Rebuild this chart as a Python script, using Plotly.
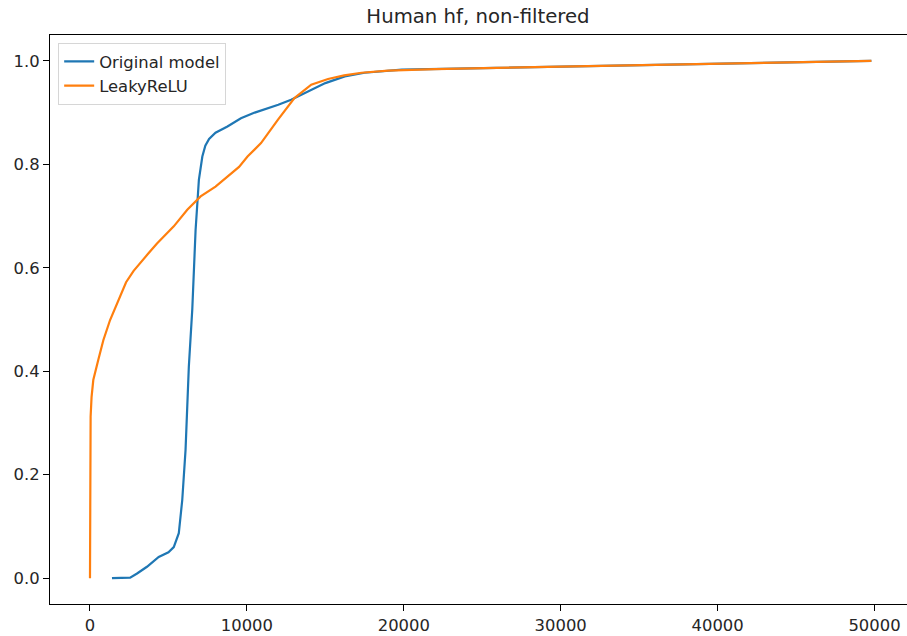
import plotly.graph_objects as go

title_text = "Human hf, non-filtered"

orig_x = [1400, 2000, 2560, 3000, 3630, 4380, 5000, 5340, 5660, 5880, 6090, 6300, 6520, 6730,
          6940, 7160, 7350, 7590, 7800, 8000, 8760, 9620, 10500, 11320, 12000, 12820, 13500, 14310,
          15000, 16240, 17500, 19870, 25000, 30000, 35000, 40000, 45000, 49800]
orig_y = [0.0, 0.0, 0.001, 0.009, 0.022, 0.041, 0.05, 0.06, 0.087, 0.151, 0.248, 0.409, 0.52, 0.673,
          0.770, 0.815, 0.836, 0.849, 0.856, 0.861, 0.873, 0.889, 0.900, 0.908, 0.915, 0.925, 0.935,
          0.947, 0.957, 0.970, 0.977, 0.983, 0.986, 0.989, 0.991, 0.994, 0.997, 1.0]

leaky_x = [0, 0, 20, 40, 100, 210, 530, 850, 1280, 1920, 2300, 2780, 3200, 3700, 4270, 5340, 6200,
           7050, 8000, 8760, 9500, 10040, 10900, 11970, 13030, 14100, 15170, 16200, 17310, 19000,
           22000, 30000, 40000, 49800]
leaky_y = [0.0, 0.15, 0.25, 0.312, 0.35, 0.383, 0.422, 0.46, 0.499, 0.544, 0.572, 0.594, 0.610, 0.627,
           0.647, 0.68, 0.712, 0.738, 0.757, 0.776, 0.795, 0.815, 0.841, 0.886, 0.928, 0.954, 0.965,
           0.972, 0.977, 0.981, 0.984, 0.989, 0.995, 1.0]

x_ticks = [0, 10000, 20000, 30000, 40000, 50000]
y_ticks = [0.0, 0.2, 0.4, 0.6, 0.8, 1.0]

fig = go.Figure()
fig.add_trace(go.Scatter(x=orig_x, y=orig_y, mode="lines", name="Original model",
                         line=dict(color="#1f77b4", width=2.2)))
fig.add_trace(go.Scatter(x=leaky_x, y=leaky_y, mode="lines", name="LeakyReLU",
                         line=dict(color="#ff7f0e", width=2.2)))

tick_font = dict(family="DejaVu Sans", size=16.4, color="#262626")

fig.update_layout(
    width=907, height=636,
    paper_bgcolor="white", plot_bgcolor="white",
    font=dict(family="DejaVu Sans", size=16.4, color="#262626"),
    margin=dict(l=50, r=0, t=35, b=32, autoexpand=False),
    title=dict(text=title_text, xref="container", x=0.527, xanchor="center",
               yref="container", y=0.974, yanchor="middle",
               font=dict(family="DejaVu Sans", size=19.7, color="#262626")),
    xaxis=dict(range=[-2549, 52071], tickvals=x_ticks, ticktext=[str(v) for v in x_ticks],
               showgrid=False, zeroline=False, showline=True, linecolor="black", linewidth=1.2,
               mirror=True, ticks="outside", ticklen=6, tickcolor="black", tickwidth=1.2,
               tickfont=tick_font),
    yaxis=dict(range=[-0.05, 1.05], tickvals=y_ticks, ticktext=[f"{v:.1f}" for v in y_ticks],
               showgrid=False, zeroline=False, showline=True, linecolor="black", linewidth=1.2,
               mirror=False, ticks="outside", ticklen=6, tickcolor="black", tickwidth=1.2,
               tickfont=tick_font),
    legend=dict(x=0.0093, y=0.986, xanchor="left", yanchor="top", bgcolor="rgba(255,255,255,0.8)",
                bordercolor="#d6d6d6", borderwidth=1.2,
                font=dict(family="DejaVu Sans", size=16.4, color="#262626"),
                tracegroupgap=0),
    showlegend=True,
)

fig.write_html("out.html", config={"displayModeBar": False},
               post_script="document.body.style.margin='0px';")
